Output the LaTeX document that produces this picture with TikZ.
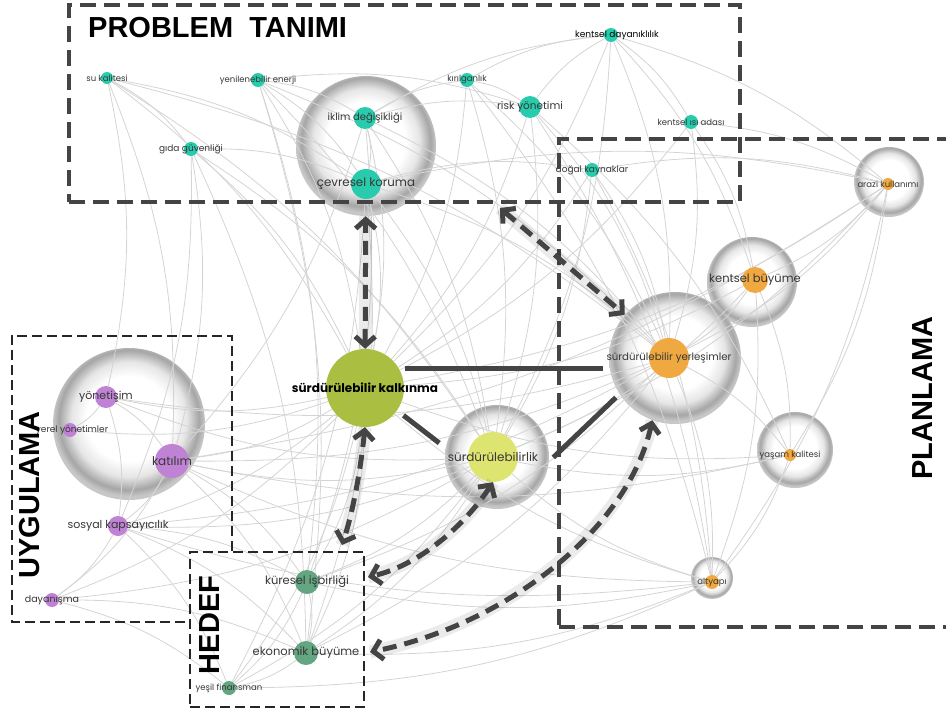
\documentclass[tikz,border=0pt]{standalone}
\usepackage{xcolor}
\usepackage{fontspec}
\setmainfont{Poppins}
\newfontfamily\titlefont{Liberation Sans}
\usepackage{tikz}
\usetikzlibrary{arrows.meta, calc}
\definecolor{probteal}{RGB}{40,204,172}
\definecolor{planorange}{RGB}{240,168,64}
\definecolor{devgreen}{RGB}{170,190,66}
\definecolor{sustyellow}{RGB}{222,228,112}
\definecolor{implpurple}{RGB}{192,130,212}
\definecolor{goalgreen}{RGB}{100,165,130}
\definecolor{darkline}{RGB}{68,68,68}
\definecolor{labelgray}{RGB}{55,55,55}
\definecolor{webgray}{RGB}{212,212,212}
\pgfdeclareradialshading{bubble}{\pgfpoint{0bp}{2.5bp}}{color(0bp)=(white); color(14bp)=(white); color(19bp)=(black!10); color(23bp)=(black!35); color(25bp)=(black!22); color(50bp)=(black!22)}
\pgfdeclarelayer{bubbles}
\pgfdeclarelayer{web}
\pgfsetlayers{bubbles,web,main}
\tikzset{
  bubble/.style={
      circle,
      inner sep=0pt,
      minimum size=#1,
      shade,
      shading=bubble
  },
  probdot/.style={circle, fill=probteal, inner sep=0pt, minimum size=#1},
  plandot/.style={circle, fill=planorange, inner sep=0pt, minimum size=#1},
  uygdot/.style={circle, fill=implpurple, inner sep=0pt, minimum size=#1},
  hedefdot/.style={circle, fill=goalgreen, inner sep=0pt, minimum size=#1},
  lbl/.style={font=\fontsize{#1}{#1}\selectfont, text=labelgray},
  web/.style={draw=webgray, line width=0.8pt},
  bigbox/.style={
      draw=darkline,
      rectangle,
      inner sep=0pt,
      line width=3.5pt,
      dash pattern=on 16pt off 8pt
  },
  smallbox/.style={
      draw=black!85,
      line width=2.5pt,
      dash pattern=on 10pt off 5pt
  },
  boxtitle/.style={font=\titlefont\bfseries\fontsize{29}{29}\selectfont, text=black, inner sep=0pt},
  link/.style={draw=darkline, line width=5pt},
  biarrow/.style={
      {Straight Barb[length=9pt,width=20pt]}-{Straight Barb[length=9pt,width=20pt]},
      draw=darkline,
      line width=5pt,
      dash pattern=on 14pt off 8pt,
      preaction={draw=black, draw opacity=0.08, line width=13pt, solid, -}
  }
}

\begin{document}
\begin{tikzpicture}[x=1pt, y=-1pt]
      \useasboundingbox (0,0) rectangle (946,715);

      % Bubbles
      \begin{pgfonlayer}{bubbles}
        \node[bubble=140] (bcevre) at (366,146) {};
        \node[bubble=70] (barazi) at (889,182) {};
        \node[bubble=90] (bkbuyume) at (752,282) {};
        \node[bubble=132] (byerles) at (675,358) {};
        \node[bubble=76] (byasam) at (795,450) {};
        \node[bubble=42] (baltyapi) at (712,578) {};
        \node[bubble=104] (bsurdur) at (497,457) {};
        \node[bubble=152] (buyg) at (129,424) {};
      \end{pgfonlayer}

      % Problem tanimi
      \node[probdot=12, label={[lbl=8.5]center:su kalitesi}] (su) at (107,78) {};
      \node[probdot=14, label={[lbl=8.5]center:yenilenebilir enerji}] (yen) at (258,80) {};
      \node[probdot=14, label={[lbl=9]center:gıda güvenliği}] (gida) at (191,149) {};
      \node[probdot=22, label={[lbl=10]center:iklim değişikliği}] (iklim) at (365,118) {};
      \node[probdot=30, label={[lbl=11.8]center:çevresel koruma}] (cevre) at (366,184) {};
      \node[probdot=14, label={[lbl=8.5]center:kırılganlık}] (kiril) at (467,80) {};
      \node[probdot=22, label={[lbl=10.5]center:risk yönetimi}] (risk) at (530,107) {};
      \node[probdot=14, label={[lbl=9, text=black, xshift=6pt]center:kentsel dayanıklılık}] (kdayan) at (611,35) {};
      \node[probdot=14, label={[lbl=8.5]center:kentsel ısı adası}] (isi) at (691,122) {};
      \node[probdot=14, label={[lbl=9]center:doğal kaynaklar}] (dogal) at (592,170) {};

      % Planlama
      \node[plandot=12, label={[lbl=8.5]center:arazi kullanımı}] (arazi) at (888,184) {};
      \node[plandot=26, label={[lbl=11.5]center:kentsel büyüme}] (kbuyume) at (755,280) {};
      \node[plandot=40, label={[lbl=10.2]center:sürdürülebilir yerleşimler}] (yerles) at (669,358) {};
      \node[plandot=12, label={[lbl=8.5]center:yaşam kalitesi}] (yasam) at (790,455) {};
      \node[plandot=14, label={[lbl=8.5]center:altyapı}] (altyapi) at (712,582) {};

      % Merkez
      \node[circle, fill=devgreen, inner sep=0pt, minimum size=78,
            label={[lbl=12, font=\bfseries\fontsize{12}{12}\selectfont, text=black]center:sürdürülebilir kalkınma}] (kalkinma) at (365,388) {};
      \node[circle, fill=sustyellow, inner sep=0pt, minimum size=50,
            label={[lbl=12]center:sürdürülebilirlik}] (surdur) at (493,457) {};

      % Uygulama
      \node[uygdot=22, label={[lbl=11]center:yönetişim}] (yonet) at (106,397) {};
      \node[uygdot=14, label={[lbl=9, xshift=2pt]center:yerel yönetimler}] (yerel) at (70,430) {};
      \node[uygdot=34, label={[lbl=12]center:katılım}] (katilim) at (172,461) {};
      \node[uygdot=20, label={[lbl=11]center:sosyal kapsayıcılık}] (sosyal) at (118,526) {};
      \node[uygdot=14, label={[lbl=9.5]center:dayanışma}] (dayan) at (52,600) {};

      % Hedef
      \node[hedefdot=24, label={[lbl=11.5]center:küresel işbirliği}] (kuresel) at (307,582) {};
      \node[hedefdot=24, label={[lbl=11.5]center:ekonomik büyüme}] (ekonomik) at (306,653) {};
      \node[hedefdot=14, label={[lbl=8.5]center:yeşil finansman}] (yesil) at (229,688) {};

      % Network
      \begin{pgfonlayer}{web}
        \foreach \a/\b in {su/kalkinma, su/cevre, su/katilim, su/surdur, su/yerles, su/yonet, su/gida,
            yen/kalkinma, yen/cevre, yen/iklim, yen/surdur, yen/yerles, yen/kuresel, yen/ekonomik, yen/risk,
            gida/kalkinma, gida/cevre, gida/surdur, gida/sosyal, gida/katilim, gida/ekonomik,
            iklim/kalkinma, iklim/risk, iklim/kiril, iklim/surdur, iklim/yerles, iklim/kdayan, iklim/katilim, iklim/kuresel, iklim/cevre,
            cevre/kalkinma, cevre/surdur, cevre/yerles, cevre/dogal, cevre/arazi, cevre/ekonomik, cevre/yesil,
            kiril/kalkinma, kiril/risk, kiril/surdur, kiril/yerles, kiril/kdayan, kiril/altyapi,
            risk/kalkinma, risk/surdur, risk/yerles, risk/kdayan, risk/yasam, risk/altyapi,
            kdayan/kalkinma, kdayan/yerles, kdayan/arazi, kdayan/isi, kdayan/kbuyume, kdayan/surdur,
            isi/yerles, isi/arazi, isi/kalkinma, isi/kbuyume,
            dogal/kalkinma, dogal/surdur, dogal/yerles, dogal/arazi, dogal/altyapi,
            arazi/kalkinma, arazi/yerles, arazi/kbuyume, arazi/surdur, arazi/yasam, arazi/altyapi, arazi/katilim,
            kbuyume/kalkinma, kbuyume/yerles, kbuyume/surdur, kbuyume/altyapi, kbuyume/yasam,
            yerles/altyapi, yerles/yasam, yerles/katilim, yerles/yonet, yerles/ekonomik, yerles/kuresel, yerles/sosyal,
            yasam/kalkinma, yasam/surdur, yasam/altyapi, yasam/katilim,
            altyapi/kalkinma, altyapi/surdur, altyapi/katilim, altyapi/sosyal, altyapi/ekonomik, altyapi/kuresel, altyapi/yesil,
            kalkinma/yonet, kalkinma/yerel, kalkinma/katilim, kalkinma/sosyal, kalkinma/dayan, kalkinma/kuresel, kalkinma/ekonomik, kalkinma/yesil,
            surdur/yonet, surdur/katilim, surdur/sosyal, surdur/kuresel, surdur/ekonomik, surdur/yesil, surdur/dayan,
            yonet/katilim, yonet/yerel, yonet/sosyal,
            katilim/sosyal, katilim/dayan, katilim/kuresel, katilim/ekonomik,
            sosyal/dayan, sosyal/kuresel, sosyal/ekonomik, sosyal/yesil,
            dayan/yesil, dayan/ekonomik,
            kuresel/ekonomik, kuresel/yesil, ekonomik/yesil}
          \draw[web] (\a) to[bend left=12] (\b);
      \end{pgfonlayer}

      % Boxes
      \node[bigbox, minimum width=671, minimum height=197] (problem) at (404.5,103.5) {};
      \node[bigbox, minimum width=421, minimum height=488] (planlama) at (769.5,383) {};
      \node[rectangle, inner sep=0pt, minimum width=220, minimum height=286] (uygulama) at (122,479) {};
      \node[smallbox, rectangle, inner sep=0pt, minimum width=174, minimum height=155] (hedef) at (277,629.5) {};
      \draw[smallbox] (hedef.north -| uygulama.east) -- (uygulama.north east) -- (uygulama.north west)
            -- (uygulama.south west) -- (uygulama.south -| hedef.west);

      \node[boxtitle, anchor=base west] (problemtitle) at (88,37) {PROBLEM\ \ TANIMI};
      \node[boxtitle, rotate=90] (plantitle) at (923,398) {PLANLAMA};
      \node[boxtitle, rotate=90] (uygtitle) at (30,495) {UYGULAMA};
      \node[boxtitle, rotate=90] (hedeftitle) at (210,625) {HEDEF};

      % Connections
      \draw[link, shorten <=6pt, shorten >=6pt] (kalkinma.30) -- (kalkinma.30 -| byerles.west);
      \draw[link, shorten <=8pt, shorten >=8pt] (kalkinma.-35) -- (bsurdur.170);
      \draw[link, shorten <=6pt, shorten >=5pt] (bsurdur.-5) -- (byerles.213);

      \coordinate (probout) at (500,208);
      \coordinate (hedefin) at (342,545);
      \coordinate (hedefmid) at (368,577);
      \coordinate (hedeflow) at (370,652);

      \draw[biarrow] (kalkinma) -- (bcevre);
      \draw[biarrow] (probout) -- (byerles);
      \draw[biarrow] (kalkinma.south) .. controls (360,475) and (352,515) .. (hedefin);
      \draw[biarrow] (surdur.south) .. controls (465,525) and (420,565) .. (hedefmid);
      \draw[biarrow] (byerles.250) .. controls (628,530) and (505,625) .. (hedeflow);
    \end{tikzpicture}
\end{document}
